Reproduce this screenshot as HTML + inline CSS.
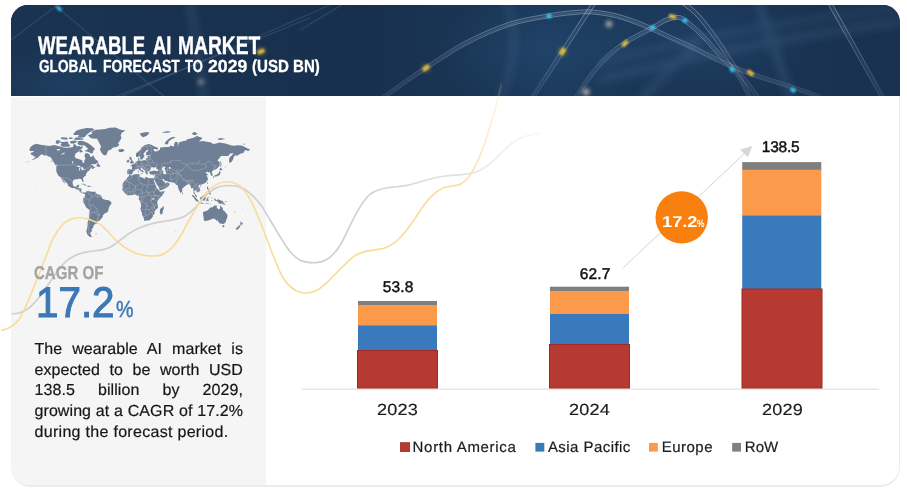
<!DOCTYPE html>
<html lang="en">
<head>
<meta charset="utf-8">
<title>Wearable AI Market</title>
<style>
html,body{margin:0;padding:0;background:#fff;}
body{width:907px;height:491px;position:relative;overflow:hidden;font-family:"Liberation Sans",sans-serif;text-rendering:geometricPrecision;}
#card{position:absolute;left:10.5px;top:5px;width:888.7px;height:480px;border:1px solid #ececec;border-width:0 1.6px 2px 0;border-radius:17px 17px 20px 20px;background:#fff;overflow:hidden;box-sizing:content-box;}
#banner{position:absolute;left:0;top:0;width:890px;height:91px;background:#1a3351;}
#side{position:absolute;left:0;top:92px;width:255.5px;height:390px;background:#f5f5f5;}
.abs{position:absolute;white-space:nowrap;line-height:1;}
.cond{transform-origin:0 0;}
#t1{left:0;top:33.7px;font-size:25.6px;font-weight:bold;color:#fff;-webkit-text-stroke:.4px #fff;}
#t1 span,#t2 span{position:absolute;top:0;transform-origin:0 0;white-space:nowrap;}
#t2{left:0;top:58.2px;font-size:17.5px;font-weight:bold;color:#fff;-webkit-text-stroke:.3px #fff;}
#cagr{left:34px;top:264.2px;font-size:18.5px;font-weight:bold;color:#a3a3a3;-webkit-text-stroke:.3px #a3a3a3;transform:scaleX(.813);}
#big{left:36.2px;top:282px;font-size:42.8px;color:#3a78b6;-webkit-text-stroke:1.1px #3a78b6;transform:scaleX(.943);}
#bigp{left:115.6px;top:298.3px;font-size:23.2px;color:#3a78b6;-webkit-text-stroke:.45px #3a78b6;transform:scaleX(.85);}
#para{position:absolute;left:34.5px;top:340px;width:208.5px;font-size:16px;letter-spacing:.08px;line-height:20.7px;color:#161616;-webkit-text-stroke:.2px #161616;text-align:justify;}
#para span{display:block;text-align:justify;text-align-last:justify;white-space:nowrap;}
#para span.last{text-align-last:left;letter-spacing:.3px;}
.lbl{font-size:15.5px;color:#111;-webkit-text-stroke:0.45px #111;letter-spacing:-.25px;}
.yr{font-size:16px;color:#1c1c1c;-webkit-text-stroke:.15px #1c1c1c;letter-spacing:.2px;transform:scaleX(1.13);transform-origin:0 0;}
.lg{font-size:15px;color:#1c1c1c;-webkit-text-stroke:.2px #1c1c1c;}
</style>
</head>
<body>
<div id="card">
  <div id="banner"></div>
  <div id="side"></div>
</div>
<svg id="gfx" class="abs" style="left:0;top:0" width="907" height="491" viewBox="0 0 907 491">
  <!-- banner art -->
  <defs>
    <clipPath id="bclip"><path d="M11,96 V22 A17,17 0 0 1 28,5 H883 A17,17 0 0 1 900,22 V96 Z"/></clipPath>
    <linearGradient id="bbg" x1="0" y1="0" x2="1" y2="0">
      <stop offset="0" stop-color="#1a3351"/>
      <stop offset="0.4" stop-color="#18304e"/>
      <stop offset="0.62" stop-color="#1b3859"/>
      <stop offset="0.8" stop-color="#1a3454"/>
      <stop offset="1" stop-color="#19314f"/>
    </linearGradient>
    <radialGradient id="bglow1" cx="0.5" cy="0.5" r="0.5">
      <stop offset="0" stop-color="#2a5c8a" stop-opacity="0.55"/>
      <stop offset="1" stop-color="#2a5c8a" stop-opacity="0"/>
    </radialGradient>
    <linearGradient id="tg" gradientUnits="userSpaceOnUse" x1="0" y1="5" x2="0" y2="96"><stop offset="0" stop-color="#e6eef9" stop-opacity=".55"/><stop offset=".5" stop-color="#dfe9f6" stop-opacity=".36"/><stop offset="1" stop-color="#dfe9f6" stop-opacity=".16"/></linearGradient>
    <filter id="bl2" x="-20%" y="-20%" width="140%" height="140%"><feGaussianBlur stdDeviation="2.2"/></filter>
    <filter id="bl1" x="-50%" y="-50%" width="200%" height="200%"><feGaussianBlur stdDeviation="1.1"/></filter>
    <filter id="bl4" x="-20%" y="-50%" width="140%" height="200%"><feGaussianBlur stdDeviation="4"/></filter>
  </defs>
  <g clip-path="url(#bclip)">
    <rect x="11" y="5" width="889" height="91" fill="url(#bbg)"/>
    <ellipse cx="70" cy="85" rx="90" ry="40" fill="url(#bglow1)" opacity=".5"/>
    <ellipse cx="545" cy="50" rx="110" ry="60" fill="url(#bglow1)" opacity=".6"/>
    <ellipse cx="700" cy="40" rx="120" ry="60" fill="url(#bglow1)" opacity=".45"/>
    <!-- blurred bands -->
    <g filter="url(#bl4)" stroke="#7fa6cf" fill="none" opacity=".16">
      <path d="M600,80 Q760,40 900,22" stroke-width="7"/>
      <path d="M600,62 Q760,22 900,8" stroke-width="5"/>
      <path d="M757,0 L792,100" stroke-width="8"/>
      <path d="M640,100 L700,40" stroke-width="7"/>
      <path d="M190,0 L204,100" stroke-width="7"/>
      <path d="M505,0 Q525,40 500,100" stroke-width="6"/>
    </g>
    <!-- tubes -->
    <g fill="none" stroke="#b9cde6" stroke-opacity=".08" stroke-width="3.6"><path d="M380.0,100.0C384.2,97.0 397.3,87.3 405.0,82.0C412.7,76.7 415.8,74.5 426.0,68.0C436.2,61.5 452.2,50.3 466.0,43.0C479.8,35.7 495.2,28.9 509.0,24.4C522.8,19.9 538.0,17.8 549.0,15.8C560.0,13.8 567.8,13.1 575.0,12.5C582.2,11.9 585.1,11.4 592.0,12.0C598.9,12.6 608.0,13.7 616.5,15.9C625.0,18.1 634.2,21.5 643.0,25.0C651.8,28.5 660.6,33.0 669.4,37.0C678.2,41.0 687.0,44.8 695.8,49.0C704.6,53.2 713.0,58.0 722.3,62.2C731.6,66.4 739.7,69.8 751.4,74.0C763.1,78.2 781.0,83.5 792.4,87.3C803.8,91.1 815.4,95.4 820.0,97.0"/><path d="M573.0,101.0C573.8,99.9 575.0,98.6 577.8,94.6C580.6,90.5 585.3,82.8 590.0,76.7C594.7,70.6 600.0,63.7 606.0,58.0C612.0,52.3 617.8,47.4 625.7,42.3C633.6,37.2 647.0,30.9 653.5,27.3C660.0,23.7 661.2,22.1 665.0,20.5C668.8,18.9 672.8,17.7 676.0,17.6C679.2,17.5 679.4,16.6 684.0,19.8C688.6,23.0 697.4,30.6 703.8,37.0C710.2,43.4 717.4,53.0 722.3,58.2C727.1,63.4 729.8,64.8 732.9,68.3C736.0,71.8 738.1,74.9 740.8,79.4C743.4,83.9 747.3,91.9 748.8,95.3C750.3,98.7 749.8,99.2 750.0,100.0"/><path d="M682.0,2.0C684.3,3.9 691.3,8.7 695.8,13.2C700.3,17.7 704.6,23.3 709.0,29.0C713.4,34.7 718.1,41.4 722.3,47.6C726.5,53.8 729.7,59.9 734.0,66.0C738.3,72.1 743.7,78.3 748.0,84.0C752.3,89.7 758.0,97.3 760.0,100.0"/><path d="M531.0,100.0C536.2,91.9 551.7,68.2 562.5,51.5C573.3,34.8 590.4,8.6 596.0,0.0"/><path d="M828.0,0.0C837.3,16.7 874.7,83.3 884.0,100.0"/></g>
    <g fill="none" stroke="url(#tg)" stroke-width=".7"><path d="M381.1,101.5C385.3,98.5 398.4,88.9 406.1,83.6C413.7,78.2 416.9,76.1 427.0,69.6C437.2,63.1 453.1,51.9 466.9,44.7C480.6,37.4 495.8,30.7 509.6,26.2C523.3,21.7 538.4,19.6 549.3,17.7C560.3,15.7 568.1,15.0 575.2,14.4C582.3,13.8 585.0,13.3 591.8,13.9C598.7,14.5 607.6,15.6 616.0,17.7C624.4,19.9 633.5,23.3 642.3,26.8C651.1,30.3 659.8,34.7 668.6,38.7C677.4,42.7 686.2,46.5 695.0,50.7C703.8,54.9 712.2,59.8 721.5,63.9C730.8,68.1 739.0,71.6 750.8,75.8C762.5,80.0 780.4,85.3 791.8,89.1C803.2,92.9 814.8,97.2 819.4,98.8"/><path d="M378.9,98.5C383.1,95.5 396.2,85.8 403.9,80.4C411.6,75.1 414.8,72.9 425.0,66.4C435.2,59.9 451.2,48.6 465.1,41.3C479.0,34.0 494.5,27.2 508.4,22.6C522.3,18.0 537.6,15.9 548.7,13.9C559.7,11.9 567.6,11.2 574.8,10.6C582.1,10.0 585.1,9.5 592.2,10.1C599.2,10.7 608.4,11.9 617.0,14.1C625.6,16.2 634.8,19.7 643.7,23.2C652.6,26.8 661.4,31.3 670.2,35.3C679.0,39.3 687.8,43.1 696.6,47.3C705.4,51.5 713.8,56.3 723.1,60.5C732.3,64.6 740.4,68.0 752.0,72.2C763.7,76.4 781.6,81.7 793.0,85.5C804.4,89.3 816.0,93.6 820.6,95.2"/><path d="M574.5,102.1C575.3,101.1 576.5,99.7 579.4,95.7C582.2,91.6 586.8,83.9 591.5,77.9C596.2,71.8 601.4,65.0 607.3,59.4C613.2,53.7 618.9,49.0 626.7,43.9C634.6,38.8 647.9,32.6 654.4,29.0C660.9,25.4 662.1,23.8 665.8,22.2C669.4,20.7 673.2,19.6 676.1,19.5C678.9,19.4 678.5,18.2 682.9,21.4C687.3,24.5 696.1,32.0 702.5,38.3C708.8,44.7 716.1,54.3 720.9,59.5C725.7,64.7 728.4,66.1 731.5,69.5C734.5,73.0 736.6,75.9 739.2,80.4C741.8,84.8 745.6,92.7 747.1,96.1C748.6,99.4 748.0,99.7 748.2,100.5"/><path d="M571.5,99.9C572.3,98.8 573.4,97.6 576.2,93.5C579.1,89.5 583.8,81.7 588.5,75.5C593.2,69.4 598.7,62.4 604.7,56.6C610.7,50.8 616.7,45.9 624.7,40.7C632.7,35.5 646.0,29.3 652.6,25.6C659.2,22.0 660.4,20.4 664.2,18.8C668.1,17.1 672.5,15.8 675.9,15.7C679.4,15.6 680.2,14.9 685.1,18.2C690.0,21.6 698.7,29.2 705.1,35.7C711.6,42.1 718.8,51.7 723.7,56.9C728.6,62.1 731.2,63.5 734.3,67.1C737.5,70.6 739.7,73.9 742.4,78.4C745.1,83.0 749.0,91.0 750.5,94.5C752.1,98.0 751.6,98.7 751.8,99.5"/><path d="M680.8,3.5C683.1,5.3 690.0,10.1 694.5,14.5C698.9,19.0 703.1,24.5 707.5,30.2C711.9,35.8 716.6,42.5 720.7,48.7C724.9,54.8 728.2,61.0 732.4,67.1C736.7,73.2 742.2,79.5 746.5,85.2C750.8,90.8 756.5,98.5 758.5,101.1"/><path d="M683.2,0.5C685.5,2.4 692.6,7.3 697.1,11.9C701.7,16.4 706.1,22.1 710.5,27.8C715.0,33.6 719.7,40.4 723.9,46.5C728.0,52.7 731.3,58.9 735.6,64.9C739.8,71.0 745.2,77.2 749.5,82.8C753.8,88.5 759.5,96.2 761.5,98.9"/><path d="M532.6,101.0C537.8,93.0 553.3,69.2 564.1,52.5C574.9,35.9 592.0,9.6 597.6,1.0"/><path d="M529.4,99.0C534.7,90.9 550.1,67.1 560.9,50.5C571.7,33.8 588.8,7.5 594.4,-1.0"/><path d="M826.3,0.9C835.7,17.6 873.0,84.3 882.3,100.9"/><path d="M829.7,-0.9C839.0,15.7 876.3,82.4 885.7,99.1"/><path stroke-opacity=".45" d="M380.2,100.2C384.3,97.2 397.5,87.6 405.2,82.2C412.8,76.9 416.0,74.7 426.2,68.3C436.3,61.8 452.3,50.5 466.1,43.3C480.0,36.0 495.3,29.2 509.1,24.7C522.9,20.2 538.1,18.1 549.1,16.1C560.0,14.1 567.9,13.4 575.0,12.8C582.2,12.2 585.1,11.7 592.0,12.3C598.9,12.9 607.9,14.0 616.4,16.2C624.9,18.4 634.1,21.8 642.9,25.3C651.7,28.8 660.5,33.3 669.3,37.3C678.1,41.3 686.9,45.1 695.7,49.3C704.5,53.5 712.9,58.3 722.2,62.5C731.4,66.6 739.6,70.1 751.3,74.3C763.0,78.5 780.9,83.8 792.3,87.6C803.7,91.4 815.3,95.7 819.9,97.3"/><path stroke-opacity=".45" d="M573.2,101.2C574.0,100.1 575.2,98.8 578.0,94.8C580.9,90.7 585.5,83.0 590.2,76.9C594.9,70.8 600.3,63.9 606.2,58.2C612.1,52.5 618.0,47.7 625.9,42.6C633.8,37.4 647.1,31.2 653.6,27.6C660.2,23.9 661.4,22.4 665.1,20.8C668.8,19.2 672.9,18.0 676.0,17.9C679.1,17.8 679.2,16.8 683.8,20.0C688.4,23.3 697.2,30.8 703.6,37.2C710.0,43.6 717.2,53.2 722.1,58.4C726.9,63.6 729.6,65.0 732.7,68.5C735.8,72.0 737.9,75.1 740.5,79.6C743.2,84.0 747.0,92.0 748.5,95.4C750.1,98.8 749.5,99.3 749.7,100.1"/></g>
    <!-- faint lines on left -->
    <g fill="none" stroke="#9db8d8" stroke-opacity=".16" stroke-width="1.2">
      <path d="M52,3 L166,98"/>
      <path d="M112,98 L310,18"/>
      <path d="M118,98 L330,5"/>
      <path d="M11,40 L60,3"/>
      <path d="M300,30 L345,3"/>
    </g>
    <!-- light spots -->
    <g filter="url(#bl1)">
      <rect x="-3.500" y="-2" width="7" height="4" fill="#e0bb3c" transform="translate(426,68) rotate(-36)"/>
      <rect x="-3.500" y="-2.200" width="7" height="4.400" fill="#e0bb3c" transform="translate(562.500,51.500) rotate(-57)"/>
      <rect x="-3.500" y="-2" width="7" height="4" fill="#e0bb3c" transform="translate(625,43.500) rotate(-45)"/>
      <rect x="-3.500" y="-2" width="7" height="4" fill="#e0bb3c" transform="translate(672.500,16.500) rotate(14)"/>
      <rect x="-3.500" y="-2" width="7" height="4" fill="#e9b93a" transform="translate(750.500,73) rotate(38)"/>
      <rect x="-3.500" y="-2" width="7" height="4" fill="#e5b844" transform="translate(261,51.500) rotate(-24)"/>
      <rect x="-2.500" y="-2" width="5" height="4" fill="#37c5f3" transform="translate(549,16) rotate(-8)"/>
      <rect x="-2.500" y="-2" width="5" height="4" fill="#37c5f3" transform="translate(652.500,27.500) rotate(-20)"/>
      <rect x="-2.500" y="-2" width="5" height="4" fill="#37c5f3" transform="translate(685,20.500) rotate(25)"/>
      <rect x="-2.500" y="-2" width="5" height="4" fill="#37c5f3" transform="translate(732,69.500) rotate(55)"/>
      <rect x="-2.500" y="-2" width="5" height="4" fill="#37c5f3" transform="translate(793,90) rotate(30)"/>
      <rect x="-3" y="-1.500" width="6" height="3" fill="#37c5f3" transform="translate(59,8.500) rotate(40)"/>
    </g>
    <g filter="url(#bl2)">
      <circle cx="609" cy="24" r="3" fill="#f4dcd0" opacity=".8"/>
      <circle cx="586" cy="92" r="3.500" fill="#f0dccb" opacity=".7"/>
      <circle cx="201" cy="82" r="3" fill="#e8e0d0" opacity=".45"/>
      <circle cx="426" cy="68" r="4" fill="#e0bb3c" opacity=".35"/>
      <circle cx="562.500" cy="51.500" r="4" fill="#e0bb3c" opacity=".35"/>
      <circle cx="261" cy="51.500" r="4" fill="#e0bb3c" opacity=".3"/>
    </g>
  </g>
  <!-- world map -->
  <g id="map">
    <path fill="#6f7f95" d="M29.3,150.0 30.5,147.1 33.0,145.0 36.4,143.8 40.4,144.7 45.9,145.6 49.6,146.0 54.0,144.9 57.0,145.8 62.0,147.1 63.2,147.5 66.3,147.7 70.6,147.5 73.1,146.9 73.7,143.6 76.2,145.3 76.8,146.4 79.9,145.8 80.5,147.1 82.6,146.0 82.6,147.5 81.1,149.3 79.2,150.1 78.6,151.6 75.5,153.6 74.6,156.4 75.9,158.2 78.6,158.9 80.5,159.7 82.1,160.0 82.3,161.8 83.3,163.1 84.2,162.8 84.2,160.4 85.6,158.6 84.5,156.6 85.1,153.2 87.6,153.3 89.7,154.5 90.0,156.6 91.6,157.0 92.8,155.5 93.2,155.2 94.8,158.0 95.9,159.7 97.4,160.4 98.5,162.3 96.8,163.2 95.9,164.0 91.9,164.0 90.3,165.5 92.8,164.8 93.1,166.3 95.3,167.3 93.7,168.4 92.3,169.3 92.0,168.4 93.1,167.6 91.6,168.1 89.7,169.2 89.3,170.4 89.7,170.6 87.4,171.4 87.1,172.3 86.2,173.7 85.8,174.2 86.3,175.3 84.5,176.4 82.9,178.0 83.6,181.0 83.3,182.2 82.5,181.7 81.8,180.0 81.1,179.0 79.9,178.8 78.0,178.8 77.7,179.5 76.5,179.3 74.9,179.3 72.9,180.7 72.6,184.0 73.7,186.3 74.6,186.8 76.5,186.6 77.1,185.0 79.2,184.7 78.8,186.9 78.1,188.2 81.1,188.3 81.5,189.2 81.3,191.4 82.0,192.7 83.9,192.3 85.2,192.9 85.0,193.9 83.6,193.7 82.9,193.3 81.7,193.1 80.0,192.0 78.9,190.1 76.5,189.5 74.6,188.1 73.1,188.3 70.6,187.4 67.8,185.6 67.8,184.0 65.7,182.0 63.5,179.7 62.2,177.9 62.3,179.0 63.8,181.0 65.1,183.0 65.3,183.7 63.8,182.5 62.3,180.5 61.5,178.7 60.7,177.3 58.6,175.9 57.7,174.2 56.6,172.3 56.2,170.0 56.4,167.2 56.0,165.5 57.4,166.2 57.2,165.0 55.8,164.2 54.3,162.9 52.4,160.4 51.5,158.6 50.3,157.1 48.7,156.8 46.6,155.6 44.1,155.5 42.9,154.5 41.0,154.5 39.5,156.1 37.9,157.3 36.4,158.2 35.2,159.1 32.4,160.1 31.5,160.0 33.6,158.8 35.8,156.7 34.2,156.6 33.0,155.6 31.1,154.5 30.5,153.6 31.5,152.6 33.6,152.0 33.6,151.1 32.1,151.0 30.2,150.9 29.3,150.0ZM77.7,141.2 80.5,140.8 82.9,141.0 86.0,142.2 88.5,143.6 91.0,145.3 94.7,148.5 94.7,149.6 93.4,150.6 92.8,153.1 91.9,153.6 90.3,153.0 88.5,151.9 85.1,151.3 84.8,150.6 87.3,150.1 87.6,148.0 86.0,147.1 84.5,145.3 82.3,145.5 80.5,145.3 78.6,144.7 77.7,143.9 77.7,141.2ZM60.7,141.8 63.8,142.0 66.3,141.6 68.1,141.8 68.5,144.1 70.3,145.3 69.7,146.6 66.3,146.7 62.9,146.7 61.4,146.2 60.4,144.7 62.0,143.6 59.8,142.8ZM55.5,143.0 56.4,140.2 60.4,140.4 59.2,143.2 57.0,143.9ZM77.4,137.3 81.7,137.7 84.8,137.1 86.6,134.8 89.7,132.3 94.7,129.8 92.2,128.2 86.6,127.9 80.5,129.3 76.2,130.8 74.3,132.7 77.4,134.1 79.2,135.1ZM73.7,139.4 77.4,139.9 83.6,139.6 83.3,138.4 78.6,137.7 76.2,137.2ZM60.7,138.7 63.8,139.4 67.5,139.4 67.5,137.8 65.1,137.5 61.4,137.3ZM70.0,141.2 73.1,140.8 75.5,140.6 77.1,141.8 74.9,143.0 73.7,143.6 70.6,143.5ZM68.8,139.0 72.5,139.1 72.5,137.5 69.4,137.5ZM73.7,135.1 78.6,135.1 79.2,132.7 75.5,131.8 73.7,133.4ZM79.2,150.3 81.1,149.8 82.9,151.6 82.0,152.3 80.2,152.6 79.2,151.6ZM96.3,166.0 97.4,163.8 98.4,162.8 98.7,164.2 100.2,165.4 100.2,166.8 98.4,166.7ZM87.9,135.2 90.3,137.8 92.2,138.4 97.1,138.7 99.3,143.0 101.1,146.4 99.9,149.0 100.8,151.6 102.1,153.6 103.3,154.7 105.1,155.5 106.7,154.5 107.3,152.6 108.2,150.6 110.7,149.8 113.2,147.5 116.9,146.9 119.3,145.0 118.1,143.0 119.3,141.8 120.6,139.4 121.5,138.1 120.6,135.5 121.8,132.7 125.5,130.5 120.6,129.8 115.6,127.4 109.5,127.8 105.1,129.0 100.8,129.5 95.9,129.8 92.8,131.3 91.6,132.3 92.2,133.7 87.9,135.2ZM80.5,184.5 81.7,183.7 83.6,183.7 85.4,184.7 87.1,185.5 85.1,185.8 84.8,185.2 82.3,184.1ZM87.0,186.6 87.9,185.7 89.7,185.8 90.7,186.5 89.1,187.1 88.5,186.8ZM84.6,186.7 85.8,186.9 85.3,187.1ZM91.5,186.6 92.4,186.7 92.2,187.0 91.5,186.9ZM85.2,192.9 86.3,191.5 87.9,191.1 88.9,190.5 88.8,191.5 89.7,191.1 91.0,191.7 93.4,191.8 95.3,191.7 95.9,193.0 97.7,194.5 99.6,194.7 100.8,195.3 102.1,197.7 102.1,198.6 103.3,198.9 105.8,199.9 108.2,200.0 110.1,201.3 111.3,202.1 111.3,203.9 109.8,205.8 108.8,207.7 108.5,209.7 107.6,212.3 105.5,213.1 103.0,214.9 102.7,216.9 100.8,219.3 99.6,220.8 98.1,221.0 96.9,220.4 97.7,222.2 97.1,223.6 94.7,224.0 94.4,225.4 92.8,225.4 93.6,226.7 92.5,228.5 91.3,229.3 92.3,230.4 90.3,232.8 90.7,234.5 91.0,235.4 92.5,236.5 90.3,236.9 88.5,235.8 87.0,234.1 86.3,230.8 87.3,227.7 87.6,224.7 87.6,222.5 88.8,219.0 89.1,216.3 89.5,212.3 89.5,209.9 87.6,208.6 85.8,207.1 84.8,204.6 83.6,202.4 82.8,201.1 83.6,200.2 83.1,198.9 83.6,197.8 84.4,197.4 85.1,195.8 85.0,193.9ZM95.3,233.7 97.1,233.6 96.5,234.3 95.3,234.2ZM129.2,174.9 131.7,175.4 134.8,174.2 139.1,173.9 139.7,175.2 139.3,176.4 140.3,177.0 142.2,177.4 144.6,178.7 145.2,178.3 145.2,177.0 147.1,177.2 148.3,177.9 150.8,178.3 152.9,178.2 154.1,178.2 154.4,179.3 153.9,180.5 153.0,179.1 153.6,180.3 154.8,183.0 155.7,185.0 156.0,186.6 157.3,188.5 159.4,190.4 159.6,191.1 160.7,191.7 164.5,190.9 164.2,192.3 162.5,195.2 160.0,197.7 158.5,199.5 157.3,201.4 157.3,203.3 157.9,205.2 157.9,208.1 155.1,210.3 154.5,212.3 154.8,213.6 153.1,214.9 152.9,216.6 151.4,218.6 149.6,220.2 146.5,220.5 144.9,221.0 144.2,220.4 144.0,219.0 143.1,216.6 142.2,214.9 141.8,212.3 140.3,209.3 141.2,205.8 140.9,203.9 140.3,201.7 138.8,199.5 138.8,197.7 138.9,196.1 138.1,195.5 136.6,195.6 135.7,194.4 133.5,194.7 131.7,195.2 130.1,195.0 128.3,195.5 127.3,195.2 125.8,194.0 124.7,193.0 123.6,191.4 122.4,190.1 122.1,189.0 122.7,188.2 122.8,186.3 122.4,185.0 123.0,183.3 124.0,181.7 124.9,180.5 126.7,179.3 126.9,178.0 128.6,176.4ZM163.3,205.8 163.9,208.1 163.1,210.3 162.2,214.2 160.7,214.6 159.7,212.3 160.2,209.0 161.3,208.3 162.2,207.4ZM127.3,174.1 127.2,172.8 127.5,169.5 129.8,169.2 131.7,169.4 132.2,167.3 131.4,166.3 130.0,165.5 132.0,165.2 131.8,164.4 133.8,164.0 135.1,162.9 135.8,161.7 137.2,161.2 138.3,160.8 138.0,158.2 139.4,157.6 139.1,159.5 139.7,160.8 141.5,160.8 144.3,160.2 145.9,160.0 145.9,158.2 147.7,158.0 147.4,156.2 150.2,155.7 151.4,155.5 148.3,155.3 146.8,155.5 146.0,154.5 146.2,152.6 148.5,150.6 147.7,149.8 146.2,150.6 143.6,153.6 143.6,155.0 144.6,155.6 143.1,158.2 142.8,158.9 141.7,159.5 140.9,159.6 139.7,156.6 139.4,155.9 137.2,157.3 136.0,156.4 136.0,153.6 137.8,152.1 140.3,150.1 141.5,147.5 144.6,145.3 148.6,144.0 152.0,144.9 153.3,146.0 158.2,148.0 157.9,149.4 154.5,149.0 153.3,149.0 154.4,151.3 156.3,151.6 157.6,150.9 160.0,149.6 160.0,147.5 161.3,147.5 165.9,147.1 169.3,146.9 170.2,145.6 173.6,146.4 174.2,145.8 174.1,144.1 175.5,141.8 177.6,142.0 177.9,146.9 178.8,142.4 182.5,141.2 186.6,140.6 186.6,139.4 192.7,138.1 197.0,135.9 202.6,138.1 198.9,141.6 202.9,141.1 206.9,141.8 211.2,142.4 213.1,144.1 216.2,143.5 219.2,142.4 225.4,143.6 231.6,145.6 234.7,145.8 237.7,145.3 241.4,145.6 243.9,146.6 247.0,148.3 250.3,149.6 248.2,151.1 245.1,150.1 243.3,153.1 240.2,153.7 237.7,155.5 234.7,155.5 233.7,157.3 232.8,160.0 231.6,161.7 230.3,162.5 229.5,163.3 228.9,160.0 229.7,157.3 232.2,155.0 233.4,153.1 229.7,153.8 228.5,156.1 225.4,155.9 221.1,156.1 217.4,160.4 219.5,161.7 219.9,165.0 218.3,167.3 216.2,169.3 213.7,170.0 212.9,170.8 211.5,172.0 212.8,174.4 212.5,175.5 210.8,175.9 210.9,174.1 210.0,173.4 209.7,172.0 207.8,172.6 208.1,171.5 205.7,172.6 206.3,173.7 208.4,174.1 206.6,175.5 207.5,177.3 208.1,179.0 207.2,180.7 205.7,182.7 203.2,184.1 201.0,184.8 199.5,184.7 198.3,186.0 200.0,188.5 200.3,190.8 198.9,191.8 197.7,192.9 197.7,191.9 196.4,191.4 195.1,189.8 194.3,191.4 194.9,193.6 196.6,195.8 197.0,197.4 195.4,196.6 194.8,194.5 193.5,193.3 193.6,191.7 193.2,188.9 193.0,187.9 191.8,188.3 191.1,188.2 190.9,186.3 189.6,184.7 189.0,184.0 187.8,184.5 186.6,185.0 185.3,186.0 182.4,188.5 182.2,190.1 182.1,191.8 180.7,193.3 179.8,191.7 178.8,189.5 177.9,186.9 177.7,185.0 176.4,185.1 175.5,184.1 174.4,182.7 171.1,182.2 168.4,182.0 167.7,181.0 166.2,181.3 164.4,180.3 163.7,179.0 162.9,179.0 162.5,179.7 163.7,181.4 164.7,181.8 164.8,183.0 166.2,183.0 167.6,181.6 167.7,182.7 169.1,183.3 169.8,184.0 168.5,186.3 166.8,187.6 165.0,188.5 162.8,189.5 160.7,190.3 159.6,190.3 159.3,188.9 158.8,187.3 157.0,184.7 155.9,182.4 154.5,180.3 154.4,179.3 154.1,178.2 154.5,176.9 155.1,174.8 155.2,174.3 153.3,174.7 151.7,174.6 150.2,174.3 149.1,173.0 149.2,171.9 150.8,171.2 152.3,171.0 154.5,170.4 156.3,171.2 158.5,170.8 157.6,169.3 155.7,168.1 157.0,166.4 154.5,167.3 153.6,168.5 153.3,167.3 151.7,167.1 151.1,168.1 150.2,169.7 150.2,170.8 148.9,171.3 147.4,171.5 147.7,173.4 147.1,174.4 146.2,174.1 144.9,171.5 144.8,170.4 142.2,168.5 141.3,167.7 140.5,167.9 140.6,168.9 141.5,170.0 142.8,170.6 144.3,171.7 143.4,171.5 143.1,172.6 142.8,173.4 142.6,173.4 142.8,172.3 142.5,171.9 140.6,170.8 139.3,169.7 138.3,168.6 137.5,169.0 135.7,169.4 134.8,169.7 134.9,170.6 133.2,171.5 132.7,172.6 132.5,173.6 131.7,174.2 129.6,174.7 129.0,174.3ZM129.5,164.2 131.0,163.6 133.7,163.2 133.9,161.9 133.0,161.4 132.0,160.0 131.7,159.1 131.8,157.7 130.4,157.6 131.0,156.7 129.8,156.7 129.2,158.2 129.8,159.5 131.0,160.1 131.0,161.3 130.1,161.5 130.1,162.5 129.7,162.7 131.0,163.0ZM126.7,162.5 129.1,162.3 129.2,160.8 129.3,160.0 128.3,159.7 126.7,160.8ZM118.1,150.1 119.3,149.2 123.0,149.0 124.6,150.6 121.8,152.2 119.0,151.7ZM139.7,133.4 142.8,132.7 146.5,132.1 149.6,132.7 146.5,136.1 142.8,137.2 140.9,135.5ZM164.7,144.1 165.6,141.8 167.4,140.0 169.9,138.1 173.6,136.8 175.5,137.5 171.1,139.4 168.7,141.4 168.1,144.1 166.8,144.5ZM191.5,133.8 194.6,131.8 197.7,134.1 194.6,135.2ZM161.9,132.3 166.8,131.3 171.1,131.5 168.7,132.7 163.7,132.8ZM217.4,139.1 220.5,138.0 225.4,139.1 222.9,139.6 219.2,139.9ZM243.0,144.1 245.1,143.6 245.4,144.3 243.3,144.5ZM220.5,160.6 221.3,162.5 221.4,164.2 221.1,167.2 220.5,167.3 220.5,164.2ZM219.2,170.4 220.2,167.7 222.6,169.3 221.1,170.4 219.9,170.0ZM219.9,170.8 220.5,172.6 219.9,174.8 218.6,175.5 217.1,176.2 216.2,176.5 215.5,175.9 214.3,176.2 213.7,176.2 214.9,175.2 216.8,174.8 217.4,174.1 218.9,173.0 219.2,171.5ZM213.1,176.6 214.1,176.5 213.9,178.1 213.2,178.1ZM214.5,176.4 215.8,176.1 215.5,176.9 214.8,177.0ZM207.5,182.2 208.1,182.7 207.4,184.3 206.9,183.3ZM200.0,185.8 201.2,185.6 200.7,186.7 200.0,186.5ZM182.2,192.3 183.3,193.6 182.5,194.5 182.1,193.6ZM207.2,186.6 208.3,186.7 208.1,188.2 209.4,190.1 208.8,190.4 207.5,189.6 206.9,188.2ZM208.1,193.9 209.1,193.0 210.3,192.2 210.9,193.9 210.3,194.7 209.4,194.2 209.1,193.6ZM208.1,190.9 209.4,191.1 210.3,191.4 210.0,192.0 209.1,192.3 208.4,191.9ZM205.2,193.0 206.6,191.4 206.8,191.7 205.5,193.0ZM200.1,197.4 201.7,197.1 202.6,196.1 203.8,195.2 204.9,193.9 206.3,195.2 205.5,197.7 205.4,198.9 204.7,200.8 203.2,200.5 200.7,200.0 200.1,198.3ZM191.7,194.9 193.0,195.0 194.6,196.6 196.7,198.9 198.3,200.2 198.1,201.9 197.0,201.4 195.8,200.8 194.6,198.9 193.6,197.4 192.1,195.9ZM197.8,202.4 199.8,202.4 201.4,202.4 203.5,203.0 203.4,203.7 199.5,203.2 198.0,202.6ZM204.1,203.4 206.3,203.4 208.8,203.5 208.8,203.9 206.3,203.9 204.3,203.8ZM209.1,204.8 210.0,203.9 211.2,203.6 210.9,203.9 209.4,204.8ZM206.6,198.0 207.5,197.6 210.0,197.4 208.8,198.1 207.2,198.3 207.8,198.9 208.9,198.9 208.0,199.5 208.8,201.1 208.1,201.4 207.2,200.2 207.1,201.7 206.6,201.7 206.3,200.2 206.8,198.6ZM211.5,197.1 212.3,197.4 212.0,198.6 211.6,198.0ZM210.6,200.3 211.8,200.1 213.6,200.4 211.8,200.6ZM213.7,198.8 215.5,198.8 216.2,200.4 218.0,199.3 219.9,199.9 222.3,201.0 223.9,202.1 222.9,202.6 224.2,203.6 225.7,204.9 223.6,204.6 221.7,203.2 220.8,204.1 218.6,203.3 218.0,201.7 216.2,201.0 214.6,200.8 215.2,199.9 214.3,199.7ZM224.5,201.8 225.7,201.7 226.6,200.9 226.8,201.4 225.7,202.2 224.5,202.2ZM202.9,212.3 203.2,214.9 203.8,218.6 203.8,220.6 205.7,221.1 209.1,220.3 212.5,218.7 214.0,218.6 215.5,219.6 216.5,221.0 217.9,219.7 218.0,221.4 219.5,223.2 221.4,223.8 223.2,224.0 225.4,222.7 226.2,220.0 227.3,217.6 227.4,214.6 226.0,213.3 224.8,211.3 223.1,210.3 222.6,207.7 221.4,207.1 220.8,205.1 220.2,206.5 219.9,209.0 218.6,209.3 217.4,208.3 216.5,207.6 217.3,205.8 214.6,205.4 213.4,206.2 212.8,207.6 211.5,207.1 210.0,208.1 208.8,209.0 208.1,210.0 206.3,211.0 204.4,211.5ZM222.1,225.3 224.3,225.3 224.2,227.2 222.9,227.3ZM239.4,220.7 240.5,221.8 241.1,222.2 243.0,223.0 242.1,224.3 241.0,225.9 240.6,224.6 240.1,224.2 240.6,222.9ZM239.4,225.1 240.4,226.0 239.5,227.5 238.4,229.1 237.1,229.7 235.6,229.3 236.5,227.7 238.4,226.2ZM234.0,211.0 235.9,212.5 235.6,212.5 233.9,211.2ZM242.2,209.3 243.0,209.4 242.9,209.8 242.2,209.7ZM36.7,185.5 37.4,186.0 36.9,186.3ZM175.3,231.6 176.4,231.8 175.8,232.2ZM152.8,175.5 154.2,175.1 153.7,175.7ZM147.4,175.2 149.1,175.4 148.0,175.5ZM140.6,173.4 142.5,173.2 142.2,174.3 140.9,173.7ZM138.0,171.2 138.9,171.2 138.8,172.5 138.1,172.6ZM138.2,170.0 138.8,169.7 138.8,170.8 138.3,170.7ZM139.7,159.3 140.7,159.1 140.5,160.0 139.8,159.8ZM144.1,157.4 144.6,157.5 144.2,158.2ZM162.7,146.0 163.7,146.2 163.3,146.7ZM222.9,168.5 225.4,167.0 228.8,163.9 225.4,167.2ZM29.3,161.2 26.8,162.1 24.4,162.5 26.8,162.3 29.3,161.5ZM37.6,157.5 39.0,157.4 38.2,158.4ZM53.8,163.5 55.6,164.0 56.7,165.4 55.8,165.2ZM50.9,160.8 51.7,161.0 52.0,162.3 51.2,161.7ZM93.1,164.2 94.7,164.6 94.7,164.9 93.4,164.6ZM93.2,166.7 94.7,167.0 94.3,167.3ZM94.7,191.6 95.3,191.5 95.3,192.0 94.7,192.0ZM165.8,190.4 166.5,190.4 166.1,190.6ZM157.1,201.9 157.3,202.1 157.2,202.3Z"/>
    <path fill="none" stroke="#ffffff" stroke-opacity=".42" stroke-width=".45" stroke-linejoin="round" d="M57.2,165.0 74.3,165.0 78.0,165.8 80.8,167.0 82.0,168.1 82.0,170.0 84.2,169.5 85.7,168.9 86.6,168.1 88.8,168.1 90.3,166.3 91.1,166.6 91.6,168.1M45.9,145.6 45.9,155.2 48.1,156.4 49.6,155.9 50.9,158.2 52.7,159.5M60.7,177.3 62.1,177.3 64.4,178.1 66.2,178.0 67.2,177.7 68.5,179.3 69.4,179.7 70.3,179.1 71.5,180.7 72.9,181.8M76.0,189.2 76.8,188.2 76.8,187.1 78.0,187.1 78.4,186.6M78.0,187.1 77.9,188.3 78.5,188.4M77.8,189.2 78.8,189.9M77.9,189.2 78.3,189.6 79.1,190.1 79.4,189.6 81.6,188.9M80.0,191.3 81.3,191.5M81.8,193.2 82.0,192.3M101.0,195.8 99.6,196.9 98.4,197.1 97.1,197.4 95.9,195.2 95.5,195.3 93.4,195.8 93.4,197.1 91.7,197.6 89.7,198.3 89.7,200.9 87.9,202.9 89.4,204.3 89.4,205.2 90.0,205.2 92.6,204.6 92.8,205.8 95.6,206.9 95.9,208.5 97.0,208.6 97.4,209.7 97.1,211.0 97.3,212.3 98.5,212.5 99.4,213.6 99.2,214.6 99.8,215.6 98.4,216.6 97.4,217.8 99.9,220.2M91.6,212.8 90.7,213.9 90.8,215.6 89.7,217.6 89.7,220.0 89.4,221.8 89.0,224.0 88.6,226.2 88.7,228.5 88.2,231.2 88.3,233.3 90.7,234.3M89.5,209.9 90.0,209.3 91.0,210.6 91.6,212.8 93.1,212.5 94.2,212.4 94.7,211.0 97.0,210.8M90.0,209.3 90.3,208.1 90.0,205.2M83.4,200.4 84.2,201.4 84.6,200.4 86.3,198.4 86.5,198.3 89.7,200.9M84.3,197.4 85.4,198.1 86.5,198.3M88.9,190.9 88.2,192.7 88.5,193.9 90.0,194.5 91.3,194.5 91.4,197.1 91.7,197.6M95.9,193.0 95.0,194.5 95.9,195.2M97.6,194.6 97.1,195.8 98.1,197.1M99.6,194.7 99.3,196.9M94.2,212.4 95.9,213.6 97.4,214.6 99.2,214.6M97.0,215.8 98.4,215.8 99.2,214.6M96.9,220.3 97.4,217.8M148.3,177.9 148.3,184.3 148.3,185.6 147.7,186.0 147.7,188.4 146.8,189.5 146.5,190.3 147.1,191.5 147.4,192.9 149.8,195.1M148.3,184.3 152.3,184.3 155.7,184.3M138.8,178.8 139.1,181.4 140.3,183.3 142.2,183.7 147.7,186.0M140.0,176.8 138.8,178.8 138.0,178.3 137.5,176.4 138.2,174.2M140.3,183.3 136.6,186.0 134.9,186.3 133.6,185.0 129.9,182.4 127.5,180.8 127.5,179.9 131.5,177.5 132.2,177.5 131.5,175.4M124.9,180.5 127.5,180.5M122.4,184.8 124.9,184.8 124.9,183.7 125.5,183.3 125.5,181.7 127.5,181.7 127.5,180.8M129.9,182.4 128.9,182.4 129.5,187.9 129.6,188.5 125.8,188.5 125.4,189.0 125.9,190.5 127.5,191.4 128.0,191.9 129.5,191.8 131.2,192.2 131.2,195.1M122.7,188.2 124.0,187.8 125.4,189.0M122.6,190.5 124.5,190.4 125.9,190.5M123.6,191.4 124.5,190.4M124.7,192.7 126.3,193.1 127.5,193.5 128.0,191.9M125.8,194.0 126.5,193.0M128.3,195.5 127.7,194.2 127.8,193.5M133.6,185.0 135.5,186.2 135.5,187.9 135.1,188.6 133.0,188.9 132.6,188.9 131.7,189.4 129.6,191.1 129.5,191.8M135.1,188.6 135.1,191.0 134.6,192.7 134.6,194.3M133.6,194.5 133.4,193.1 132.9,191.4 131.2,191.4M132.9,191.4 134.3,190.6 135.1,191.0M142.2,183.7 142.5,185.6 142.6,187.9 141.2,189.7 141.7,190.3 141.9,192.0 141.0,192.3 140.2,193.9 138.6,194.2 138.1,195.3M135.5,187.9 137.2,189.6 139.1,189.9 141.2,189.7M141.9,192.0 142.5,193.6 141.8,195.2 142.8,196.9 141.7,196.9 141.1,196.9 139.9,196.9 138.9,196.9M138.9,197.7 139.9,197.7 139.9,196.9M142.8,196.9 144.3,196.1 146.8,195.7 148.3,195.1 149.8,195.1 152.0,196.1M142.5,193.6 144.6,192.7 146.8,191.5 147.1,191.5M141.1,196.9 141.8,198.6 141.8,199.5 140.1,200.7 139.8,200.7M140.4,201.9 142.9,202.0 144.4,203.3 146.5,202.9 146.3,205.2 147.7,205.2 147.7,206.5 146.5,206.5 146.5,208.5 147.3,209.4M144.3,196.1 143.8,198.6 142.8,199.9 141.8,201.4 140.9,201.2M140.2,209.2 141.5,209.3 144.3,209.3 145.9,209.7 147.3,209.4 148.5,209.5 149.6,209.6 151.6,208.1 151.5,207.6 153.3,207.1 153.1,204.3 151.9,203.5 150.9,201.1 151.2,199.2 152.0,196.1 153.9,195.7 155.0,195.4M145.9,209.7 145.2,212.3 145.2,214.1 145.2,216.5 143.6,216.7 143.1,216.7M145.2,214.1 146.5,215.4 148.5,214.7 149.6,213.3 151.0,212.4 152.2,212.5 152.6,215.5M148.5,209.5 150.0,211.3 151.0,212.4M151.6,208.1 153.1,208.8 153.3,210.8 152.2,212.5M153.3,207.1 154.5,207.6 154.7,209.0 154.1,207.4 154.2,205.6 156.2,205.4 157.8,204.9M153.1,204.3 153.9,204.3 154.2,205.6M150.9,201.1 151.7,199.8 151.9,198.9 153.8,198.9 156.1,200.2 157.1,201.2M153.8,198.9 154.2,197.6 155.0,195.4 158.7,195.9 158.2,198.8 158.5,199.4M155.0,195.4 156.4,196.0 158.7,195.9 160.7,195.2 162.5,193.3 159.4,191.1M149.8,195.1 147.7,192.9 148.0,192.2 150.2,192.5 152.9,191.0 153.4,191.9 153.9,193.0 153.3,193.4 155.0,195.4M155.7,184.3 156.7,186.9 155.3,189.3 155.4,190.4 154.5,191.5 153.9,193.0M155.3,189.3 156.3,188.9 157.6,189.2 159.0,190.4 159.5,190.3M159.0,190.4 158.7,191.4 159.4,191.1M150.0,155.0 152.3,152.7 151.4,151.6 150.8,148.6 151.4,147.8 150.5,146.9 150.8,145.5M150.2,155.9 149.9,157.7 150.3,158.9 152.0,160.0 153.1,161.2 152.3,162.3 153.9,162.3 154.8,163.8 157.6,164.5 157.4,165.9 156.5,166.5M161.9,165.0 161.9,163.8 164.4,162.8 166.8,163.3 169.3,162.7 170.8,163.1 170.5,161.0 175.0,160.0 176.7,160.6 180.3,160.5 182.2,163.3 184.1,163.3 186.7,164.8M161.9,165.0 161.6,165.5 163.2,167.0M161.6,165.5 161.7,168.4 162.3,169.1 161.6,170.5 162.9,170.6M157.6,169.4 159.9,170.0 161.6,170.5M158.5,170.8 159.7,171.1 160.7,170.9 161.6,170.5M159.7,171.1 160.0,172.3 161.6,172.7 163.1,173.1M160.7,170.9 161.6,172.7M186.7,164.8 189.6,163.5 193.3,164.2 193.6,162.5 196.0,163.8 198.9,164.2 203.5,164.0 205.5,164.6 206.9,162.5 207.5,161.4 210.6,161.7 213.7,166.0 216.2,165.5 214.9,168.1 213.7,168.3 213.5,170.1M187.0,164.8 189.0,168.1 192.1,169.9 197.7,170.7 201.8,169.1 204.4,168.1 206.7,166.8 205.5,164.6M186.7,164.8 185.6,166.6 183.8,168.0 182.4,170.3 178.4,172.3 179.0,173.9 181.0,175.2 181.6,177.3 182.9,178.8 185.9,180.3 187.7,180.8 189.6,180.5 192.9,180.2 193.8,181.8 193.3,183.0 195.3,184.7 195.9,184.1 197.8,183.5 199.5,184.7M182.9,178.8 182.3,179.8 184.7,180.7 187.2,181.4 187.7,180.8M187.7,180.8 187.8,181.2 189.6,181.1 189.6,180.5M175.0,183.2 176.7,182.6 176.1,180.5 177.9,179.0 178.8,177.3 179.8,175.5 181.0,175.2M187.8,184.3 187.3,181.8 189.6,182.4 189.9,184.3 190.4,183.0 191.5,181.0 192.9,180.2M189.9,184.3 189.8,185.2M193.6,191.7 194.0,190.1 193.5,188.2 194.0,186.0 194.9,185.4 195.3,184.7M195.9,184.1 197.3,185.6 199.2,187.9 199.2,189.2 198.3,191.1 197.3,191.7M194.9,185.4 195.8,187.1 197.5,187.3 198.0,189.2 196.1,189.4 196.4,191.0M198.0,189.2 199.2,189.2M194.6,194.2 195.7,194.7 195.9,194.4M160.0,172.3 160.5,173.9 161.3,175.5 161.0,176.4 162.3,178.3 162.8,179.0M166.1,173.9 168.1,173.2 170.6,174.4 170.4,176.4 171.0,178.0 170.5,179.1 171.9,180.9 170.9,182.2M170.5,179.1 173.8,179.1 175.6,177.7 176.7,175.9 177.0,174.4 179.0,173.9M170.6,174.4 172.7,173.9 174.7,173.9 177.0,173.1 179.0,173.9M178.4,172.3 176.4,171.9 174.7,173.9M182.4,170.3 179.2,169.8 176.7,170.3 176.4,171.9M165.6,170.4 167.4,170.9 169.0,169.9 170.5,171.0 173.9,173.4 172.7,173.9M167.4,170.9 167.4,168.1 169.0,167.7 170.5,168.7 173.6,169.7 174.8,171.2 176.7,170.3M163.9,168.4 165.6,170.4M149.1,170.6 150.2,170.4M155.2,174.3 159.0,174.0 160.5,173.9M154.4,179.4 155.7,178.0 157.1,177.5 158.8,178.2 160.5,179.5 161.6,179.6 162.7,180.0M154.9,177.1 156.8,176.6 158.3,175.7 159.0,174.0M157.1,177.5 156.8,176.6M154.5,176.8 155.5,176.1 155.1,174.9M154.0,178.1 154.4,179.3M154.8,177.3 154.8,178.0M164.7,182.9 165.3,183.7 166.9,183.9 167.3,185.6 165.0,186.3 163.1,186.5 161.5,187.4 159.5,187.3 159.3,188.0M165.0,186.3 165.6,187.8M166.9,183.9 167.4,183.0 167.5,181.7M131.8,169.4 134.9,170.1M127.4,170.5 128.9,170.5 128.6,172.1 128.3,173.9M134.4,163.3 136.6,164.2 138.0,165.0 137.6,166.1 136.6,167.1 137.2,167.4 137.5,169.0M135.0,163.0 136.6,162.7 137.2,161.4M136.6,162.7 136.6,164.2M141.7,160.9 142.0,163.3 140.4,163.9 141.4,165.1 140.9,166.2 138.8,166.2 137.6,166.1M138.2,160.0 139.0,160.1M144.9,160.5 147.0,160.5 147.6,162.1 147.7,163.8 146.8,164.9 144.6,164.6 142.0,163.3M147.0,160.5 147.4,160.9 148.8,160.0 149.3,159.3 150.3,158.9M145.9,159.0 148.3,158.8 149.3,159.3M145.9,159.7 147.0,160.0 147.0,160.5M147.9,157.4 148.9,157.5 149.9,157.7M139.8,156.4 140.6,154.0 140.4,152.1 141.8,149.6 143.1,147.5 145.5,146.4M147.7,149.8 147.5,147.5 145.5,146.4 148.7,146.2 150.8,145.5M146.8,164.9 146.6,165.5 149.3,165.6 150.3,167.7 151.2,167.9M147.5,162.9 151.7,163.1 152.3,162.3M149.3,165.6 150.9,165.8 151.4,167.0M137.2,167.4 139.4,166.7 141.3,167.0 141.3,167.7M138.8,166.2 139.4,166.7M140.9,166.2 143.3,165.8 144.6,164.6M141.3,167.0 142.8,166.7 143.3,165.8M142.8,166.7 144.5,167.4 145.4,167.3 146.6,165.5M141.3,167.7 142.3,167.7 144.6,168.0 144.9,168.2 143.1,169.3M145.4,167.3 146.8,168.5 150.5,169.1M144.6,168.0 145.0,168.9 144.9,170.4 145.5,171.2 145.9,171.3 145.2,172.1M146.8,168.5 146.7,170.2 147.1,170.9 149.1,170.6M145.9,171.3 147.1,170.9M144.9,170.4 146.7,170.2"/>
    <path fill="#f5f5f5" d="M162.2,170.0 163.4,171.5 163.1,173.7 164.4,174.2 166.2,174.1 165.9,171.9 165.3,170.4 164.4,168.5 165.6,167.0 164.4,166.6 163.1,167.0 161.9,168.1ZM169.0,167.0 170.5,167.1 170.2,168.9 169.0,168.7ZM197.0,162.8 198.9,161.7 200.6,159.4 199.8,161.0 198.0,162.8ZM76.2,166.7 78.6,165.4 80.5,166.2 80.7,167.0 79.2,166.9 77.4,166.7ZM78.8,170.4 79.6,170.4 80.5,167.7 79.2,167.5ZM80.8,167.3 82.9,167.3 83.6,168.5 82.3,169.7 81.4,168.9ZM81.5,170.6 84.2,169.8 84.1,169.4 85.7,169.3 85.7,168.9 83.9,169.0 81.5,170.3ZM152.5,198.1 153.9,198.2 153.7,199.7 152.6,199.7ZM56.4,149.6 59.5,148.7 60.1,150.3 57.4,150.6ZM60.7,154.5 63.8,152.8 65.4,153.1 62.6,154.5ZM71.8,161.2 72.8,161.0 73.4,163.8 72.8,163.7Z"/>
  </g>
  <!-- curves -->
  <defs>
    <linearGradient id="gy" gradientUnits="userSpaceOnUse" x1="0" y1="0" x2="0" y2="491">
      <stop offset="0.17" stop-color="#f8da93" stop-opacity="0.15"/>
      <stop offset="0.30" stop-color="#f8da93" stop-opacity="0.55"/>
      <stop offset="0.40" stop-color="#f8da93" stop-opacity="0.95"/>
    </linearGradient>
    <linearGradient id="gg" gradientUnits="userSpaceOnUse" x1="0" y1="0" x2="907" y2="0">
      <stop offset="0.38" stop-color="#cfcfcf" stop-opacity="1"/>
      <stop offset="0.50" stop-color="#d6d6d6" stop-opacity="0.75"/>
      <stop offset="0.60" stop-color="#dddddd" stop-opacity="0.15"/>
    </linearGradient>
  </defs>
  <g id="curves" fill="none" stroke-linecap="round" stroke-linejoin="round">
    <path stroke="url(#gg)" stroke-width="1.65" d="M12.1,313.8C13.2,313.7 16.7,313.6 19.0,313.0C21.3,312.4 23.7,311.4 26.0,310.0C28.3,308.6 30.6,306.6 32.9,304.3C35.2,302.1 37.5,299.4 39.8,296.5C42.1,293.6 44.4,290.3 46.7,287.0C49.0,283.7 51.3,279.9 53.6,276.6C55.9,273.3 58.3,269.8 60.6,267.1C62.9,264.4 65.2,262.1 67.5,260.2C69.8,258.3 72.3,257.0 74.4,255.9C76.5,254.8 78.1,254.2 80.0,253.6C81.9,253.0 83.2,252.6 85.8,252.1C88.4,251.6 92.8,251.2 95.6,250.8C98.4,250.4 100.5,250.2 102.9,249.6C105.3,249.0 107.9,248.2 110.0,247.2C112.1,246.2 113.3,245.3 115.7,243.6C118.1,241.9 121.3,239.1 124.2,237.0C127.1,234.9 129.9,233.0 132.8,231.3C135.7,229.6 138.6,228.2 141.4,227.0C144.2,225.8 147.1,225.0 149.9,224.2C152.8,223.4 155.7,222.8 158.5,222.2C161.3,221.6 164.2,221.3 167.0,220.8C169.8,220.3 172.7,220.0 175.6,219.3C178.5,218.6 181.6,217.8 184.2,216.5C186.8,215.2 188.9,213.5 191.3,211.4C193.7,209.3 196.3,206.6 198.4,204.2C200.5,201.8 201.9,199.3 204.1,197.1C206.2,194.9 208.9,192.5 211.3,190.8C213.7,189.1 216.0,187.9 218.4,187.1C220.8,186.2 223.1,185.9 225.5,185.7C227.9,185.5 230.3,185.5 232.7,185.7C235.1,185.9 237.4,186.2 239.8,187.1C242.2,187.9 244.5,189.1 246.9,190.8C249.3,192.5 251.7,194.6 254.1,197.1C256.5,199.6 258.8,202.3 261.2,205.6C263.6,208.9 265.9,213.2 268.3,217.1C270.7,221.0 272.8,224.5 275.5,229.0C278.2,233.5 281.9,239.9 284.7,244.0C287.4,248.1 289.6,251.2 292.0,253.8C294.4,256.4 296.9,258.3 299.3,259.7C301.8,261.1 303.8,261.6 306.7,262.1C309.6,262.6 313.2,263.0 316.5,262.6C319.8,262.2 323.3,261.2 326.2,259.7C329.1,258.2 331.2,256.4 333.6,253.8C336.1,251.2 338.5,248.1 340.9,244.0C343.3,239.9 345.8,234.3 348.2,229.4C350.6,224.5 353.2,219.2 355.6,214.7C358.1,210.2 360.5,205.9 362.9,202.5C365.3,199.1 367.8,196.2 370.2,194.2C372.6,192.1 374.7,191.3 377.6,190.2C380.5,189.1 384.1,188.4 387.4,187.8C390.6,187.2 393.9,187.2 397.1,186.8C400.4,186.4 403.6,186.1 406.9,185.4C410.2,184.8 413.4,183.8 416.7,182.9C420.0,182.0 423.2,180.9 426.5,180.0C429.8,179.1 433.1,178.2 436.3,177.5C439.6,176.8 442.8,176.4 446.0,176.0C449.2,175.6 452.5,175.4 455.8,175.1C459.1,174.8 462.3,174.6 465.6,174.1C468.9,173.6 472.1,173.3 475.4,172.2C478.7,171.1 481.9,169.4 485.2,167.3C488.4,165.2 491.6,162.3 494.9,159.4C498.1,156.5 501.4,152.7 504.7,149.7C508.0,146.7 511.2,143.5 514.5,141.3C517.8,139.1 521.0,137.7 524.3,136.5C527.5,135.3 531.4,134.5 534.0,134.0C536.6,133.5 539.0,133.6 540.0,133.5"/>
    <path stroke="url(#gy)" stroke-width="1.65" d="M1.7,330.3C2.9,329.9 6.4,329.2 8.7,328.0C11.0,326.8 13.6,325.2 15.6,323.3C17.6,321.4 19.1,319.3 20.8,316.4C22.5,313.5 24.3,309.8 26.0,306.0C27.7,302.2 29.4,298.1 31.1,293.9C32.8,289.7 34.6,285.3 36.3,281.0C38.0,276.7 39.8,272.4 41.5,268.0C43.2,263.6 45.0,258.9 46.7,254.5C48.4,250.1 49.8,245.7 51.6,241.7C53.4,237.7 55.7,233.8 57.7,230.7C59.7,227.6 61.6,225.2 63.8,223.3C66.0,221.4 68.6,220.0 71.1,219.1C73.5,218.2 76.0,217.9 78.5,217.8C81.0,217.7 83.4,217.9 85.8,218.4C88.2,218.9 90.6,219.9 93.1,220.9C95.5,221.9 98.2,222.9 100.5,224.6C102.8,226.2 104.6,228.2 107.1,230.8C109.6,233.4 112.8,237.2 115.7,239.9C118.6,242.6 121.3,245.0 124.2,247.0C127.1,249.0 129.9,250.6 132.8,251.9C135.7,253.2 138.6,254.0 141.4,254.7C144.2,255.4 147.1,255.8 149.9,255.9C152.8,256.1 155.9,256.1 158.5,255.6C161.1,255.1 163.2,254.1 165.6,252.7C168.0,251.3 170.3,249.6 172.7,247.0C175.1,244.4 177.5,240.8 179.9,237.0C182.3,233.2 184.6,228.5 187.0,224.2C189.4,219.9 191.7,215.4 194.1,211.4C196.5,207.4 198.9,203.3 201.3,199.9C203.7,196.5 206.0,193.3 208.4,190.8C210.8,188.3 213.1,186.5 215.5,185.1C217.9,183.7 220.3,182.8 222.7,182.3C225.1,181.8 227.4,181.7 229.8,182.0C232.2,182.3 234.5,183.0 236.9,184.3C239.3,185.6 241.7,187.2 244.1,190.0C246.5,192.8 248.8,196.9 251.2,201.4C253.6,205.9 255.9,211.4 258.3,217.1C260.7,222.8 263.1,229.4 265.5,235.6C267.9,241.8 270.2,248.2 272.6,254.2C275.0,260.1 277.6,266.8 279.7,271.3C281.8,275.8 283.3,278.5 285.4,281.3C287.4,284.1 289.7,286.2 292.0,288.0C294.3,289.8 296.9,291.2 299.3,292.0C301.8,292.8 303.8,293.2 306.7,293.0C309.6,292.8 313.2,292.1 316.5,290.5C319.8,288.9 322.9,286.1 326.2,283.2C329.4,280.3 332.7,276.7 336.0,273.4C339.3,270.1 342.5,266.6 345.8,263.6C349.1,260.6 352.3,257.3 355.6,255.3C358.9,253.3 362.1,252.3 365.4,251.4C368.6,250.5 371.9,250.5 375.1,249.9C378.4,249.3 381.6,249.2 384.9,248.0C388.2,246.8 391.4,245.1 394.7,242.6C398.0,240.1 401.2,236.6 404.5,232.8C407.8,229.0 411.1,224.2 414.3,219.6C417.6,214.9 420.8,209.1 424.0,204.9C427.2,200.7 430.5,197.0 433.8,194.2C437.1,191.3 440.3,189.2 443.6,187.8C446.9,186.4 450.5,186.5 453.4,185.8C456.2,185.2 458.3,185.2 460.7,183.9C463.1,182.6 465.6,181.0 468.0,178.0C470.4,175.0 472.9,170.7 475.4,165.8C477.8,160.9 480.3,155.2 482.7,148.7C485.1,142.2 488.0,133.2 490.0,126.7C492.0,120.2 493.4,114.9 494.9,109.6C496.4,104.3 497.7,99.2 498.8,94.9C499.9,90.6 501.1,85.8 501.5,84.0"/>
  </g>
  <!-- axis -->
  <rect x="301.3" y="388.6" width="577.7" height="1" fill="#d9d9d9"/>
  <!-- bars -->
  <g>
    <rect x="358" y="301" width="79" height="4.5" fill="#7f7f7f"/>
    <rect x="358" y="305" width="79" height="21" fill="#fb9a4b"/>
    <rect x="358" y="325.5" width="79" height="25" fill="#3a7abc"/>
    <rect x="357.5" y="350.5" width="80" height="37.5" fill="#b73a32" stroke="#a02822" stroke-width="1"/>
  </g>
  <g>
    <rect x="550" y="286.7" width="79" height="5" fill="#7f7f7f"/>
    <rect x="550" y="291" width="79" height="23.5" fill="#fb9a4b"/>
    <rect x="550" y="314" width="79" height="30.5" fill="#3a7abc"/>
    <rect x="549.5" y="344.5" width="80" height="43.5" fill="#b73a32" stroke="#a02822" stroke-width="1"/>
  </g>
  <g>
    <rect x="742.2" y="162.1" width="79.1" height="8.5" fill="#7f7f7f"/>
    <rect x="742.2" y="169.7" width="79.1" height="46.3" fill="#fb9a4b"/>
    <rect x="742.2" y="215.6" width="79.1" height="73.5" fill="#3a7abc"/>
    <rect x="742" y="289" width="80" height="99" fill="#b73a32" stroke="#a02822" stroke-width="1"/>
  </g>
  <!-- arrow -->
  <line x1="623.2" y1="267.8" x2="745" y2="152.9" stroke="#d2d2d2" stroke-width="1"/>
  <polygon points="752.3,145.9 740.2,149.5 747.9,157.3" fill="#d6d6d6"/>
  <circle cx="681.7" cy="217.4" r="26.2" fill="#f9800f"/>
  <!-- legend squares -->
  <rect x="400.4" y="442.7" width="9.2" height="8.9" fill="#b73a32" stroke="#a22a24" stroke-width=".8"/>
  <rect x="535.4" y="442.9" width="8.9" height="8.7" fill="#3a7abc"/>
  <rect x="649" y="442.9" width="8.8" height="8.7" fill="#fb9a4b"/>
  <rect x="732.2" y="442.9" width="8.8" height="8.7" fill="#7f7f7f"/>
</svg>
<div id="t1" class="abs"><span style="left:38.4px;transform:scaleX(.725)">WEARABLE </span><span style="left:153.4px;transform:scaleX(.72)">AI </span><span style="left:178.2px;transform:scaleX(.751)">MARKET</span></div>
<div id="t2" class="abs"><span style="left:38.6px;transform:scaleX(.779)">GLOBAL </span><span style="left:103.1px;transform:scaleX(.799)">FORECAST </span><span style="left:184.7px;transform:scaleX(.743)">TO </span><span style="left:207.6px;transform:scaleX(1.009)">2029 </span><span style="left:251.9px;transform:scaleX(.862)">(USD BN)</span></div>
<div id="cagr" class="abs cond">CAGR OF</div>
<div id="big" class="abs cond">17.2</div>
<div id="bigp" class="abs cond">%</div>
<div id="para"><span>The wearable AI market is</span><span>expected to be worth USD</span><span>138.5 billion by 2029,</span><span>growing at a CAGR of 17.2%</span><span class="last">during the forecast period.</span></div>
<div id="v1" class="abs lbl" style="left:382.8px;top:279.8px;letter-spacing:.1px">53.8</div>
<div id="v2" class="abs lbl" style="left:579.8px;top:266.6px;letter-spacing:.1px">62.7</div>
<div id="v3" class="abs lbl" style="left:761.8px;top:139.5px;">138.5</div>
<div id="y1" class="abs yr" style="left:376.6px;top:402.9px">2023</div>
<div id="y2" class="abs yr" style="left:569.1px;top:402.9px">2024</div>
<div id="y3" class="abs yr" style="left:761.5px;top:402.9px">2029</div>
<div id="l1" class="abs lg" style="left:412.6px;top:439.7px;letter-spacing:.68px">North America</div>
<div id="l2" class="abs lg" style="left:547.9px;top:439.7px;letter-spacing:.45px">Asia Pacific</div>
<div id="l3" class="abs lg" style="left:661.7px;top:439.7px;letter-spacing:.5px">Europe</div>
<div id="l4" class="abs lg" style="left:744.8px;top:439.7px">RoW</div>
<div id="pc" class="abs cond" style="left:662px;top:215px;color:#fff;font-weight:bold;font-size:15.6px;transform:scaleX(1.17)">17.2</div>
<div id="pcp" class="abs cond" style="left:697px;top:219.3px;color:#fff;font-weight:bold;font-size:10.5px;transform:scaleX(.8)">%</div>
</body>
</html>
